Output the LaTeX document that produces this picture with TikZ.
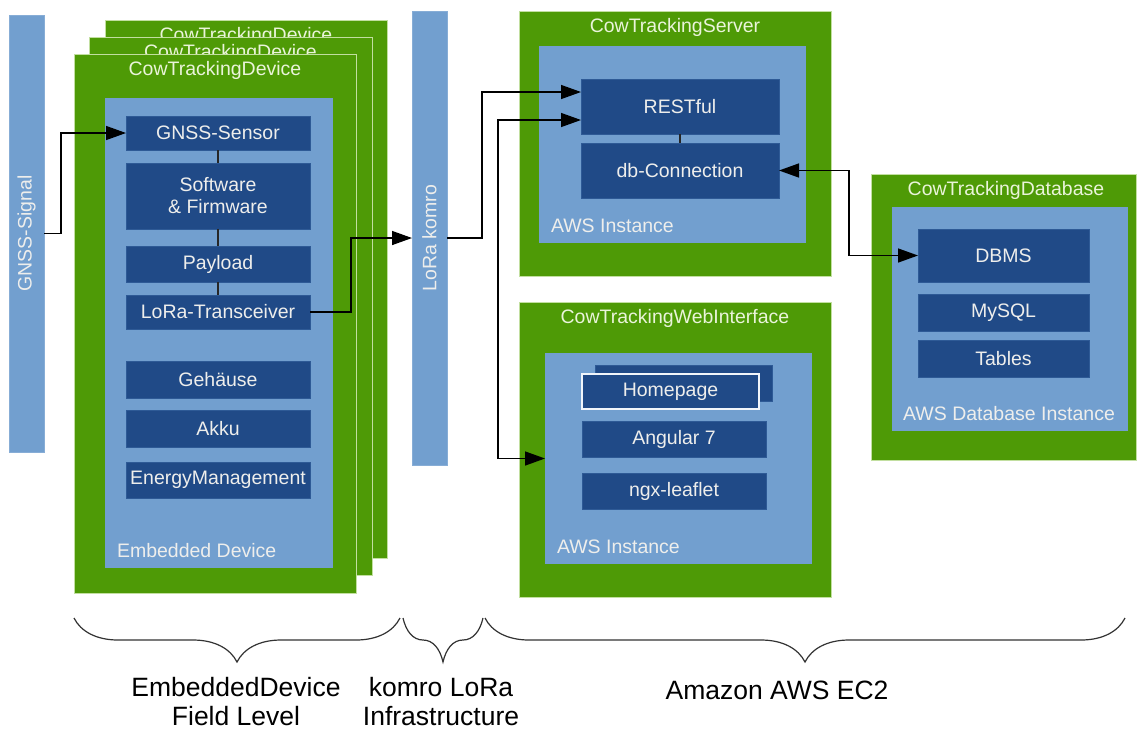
\documentclass[tikz,border=0pt]{standalone}
\usepackage{fontspec}
\setmainfont{Liberation Sans}
\usetikzlibrary{arrows.meta,decorations.pathreplacing}
\definecolor{grn}{HTML}{4E9A06}
\definecolor{grnborder}{HTML}{C2DFA0}
\definecolor{lblue}{HTML}{729FCF}
\definecolor{dblue}{HTML}{204A87}
\definecolor{dborder}{HTML}{2E5A96}
\definecolor{boxtext}{HTML}{EEEEEC}
\definecolor{titletext}{HTML}{EAF4DA}
\begin{document}
\begin{tikzpicture}[x=1pt,y=-1pt,
  every node/.style={inner sep=0pt,outer sep=0pt},
  basefont/.style={font=\fontsize{19.5pt}{22pt}\selectfont},
  greenbox/.style={draw=grnborder,line width=1pt,fill=grn,rectangle},
  bluebox/.style={fill=lblue,rectangle},
  bar/.style={fill=lblue,rectangle,draw=lblue!85!white,line width=0.6pt},
  darkbox/.style={fill=dblue,draw=dborder,line width=0.6pt,rectangle,basefont,text=boxtext,align=center},
  titlelabel/.style={basefont,text=titletext},
  innerlabel/.style={basefont,text=boxtext},
  conn/.style={draw=black!85,line width=1.4pt},
  arr/.style={draw=black,line width=1.4pt,-{Triangle[length=20pt,width=14pt]}},
  arrboth/.style={draw=black,line width=1.4pt,{Triangle[length=20pt,width=14pt]}-{Triangle[length=20pt,width=14pt]}},
  bracestyle/.style={draw=black!80,line width=1.2pt,decorate,decoration={brace,mirror,amplitude=44pt}},
  biglabel/.style={font=\fontsize{26.5pt}{29pt}\selectfont,align=center}
]
\useasboundingbox[fill=white] (0,0) rectangle (1137,729);

% GNSS bar
\node[bar,minimum width=35pt,minimum height=437pt] (gnssbar) at (26.5,233.5) {};
\node[innerlabel,rotate=90] (gnsstxt) at (gnssbar.center) {GNSS-Signal};

% LoRa bar
\node[bar,minimum width=35pt,minimum height=454pt] (lorabar) at (429.5,238) {};
\node[innerlabel,rotate=90] (loratxt) at (lorabar.center) {LoRa komro};

% device stack
\node[greenbox,minimum width=282pt,minimum height=538pt] (dev3) at (246,289) {};
\node[titlelabel] (dev3t) at (246,36) {CowTrackingDevice};
\node[greenbox,minimum width=283pt,minimum height=538pt] (dev2) at (230.5,306) {};
\node[titlelabel] (dev2t) at (230.5,53) {CowTrackingDevice};
\node[greenbox,minimum width=282pt,minimum height=539pt] (dev1) at (215,323.5) {};
\node[titlelabel] (dev1t) at (215,70) {CowTrackingDevice};
\node[bluebox,minimum width=228pt,minimum height=470pt] (devin) at (219,333) {};
\node[innerlabel,anchor=west] (devinl) at (117,551) {Embedded Device};

\node[darkbox,minimum width=184pt,minimum height=34pt] (gnss) at (218,133) {GNSS-Sensor};
\node[darkbox,minimum width=184pt,minimum height=66pt] (soft) at (218,196) {Software\\\& Firmware};
\node[darkbox,minimum width=184pt,minimum height=36pt] (payload) at (218,264) {Payload};
\node[darkbox,minimum width=184pt,minimum height=34pt] (lorat) at (218,312) {LoRa-Transceiver};
\node[darkbox,minimum width=184pt,minimum height=37pt] (gehaeuse) at (218,379.5) {Gehäuse};
\node[darkbox,minimum width=184pt,minimum height=37pt] (akku) at (218,428.5) {Akku};
\node[darkbox,minimum width=184pt,minimum height=36pt] (energy) at (218,480) {EnergyManagement};

\draw[conn] (gnss.south) -- (soft.north);
\draw[conn] (soft.south) -- (payload.north);
\draw[conn] (payload.south) -- (lorat.north);

% server
\node[greenbox,minimum width=312pt,minimum height=265pt] (server) at (675,143.5) {};
\node[titlelabel] (servert) at (675,27) {CowTrackingServer};
\node[bluebox,minimum width=267pt,minimum height=197pt] (serverin) at (672.5,144.5) {};
\node[innerlabel,anchor=west] (serverl) at (551,226) {AWS Instance};
\node[darkbox,minimum width=198pt,minimum height=55pt] (rest) at (680,106.5) {RESTful};
\node[darkbox,minimum width=198pt,minimum height=55pt] (dbconn) at (680,170.5) {db-Connection};
\draw[conn] (rest.south) -- (dbconn.north);

% web interface
\node[greenbox,minimum width=312pt,minimum height=295pt] (web) at (675,449.5) {};
\node[titlelabel] (webt) at (675,318) {CowTrackingWebInterface};
\node[bluebox,minimum width=267pt,minimum height=211pt] (webin) at (678.5,458.5) {};
\node[innerlabel,anchor=west] (webl) at (557,547) {AWS Instance};
\node[darkbox,minimum width=177pt,minimum height=36pt] (homeback) at (683.5,383) {};
\node[darkbox,draw=white!90!lblue,line width=1.2pt,minimum width=177pt,minimum height=35pt] (home) at (670.5,391.5) {Homepage};
\node[darkbox,minimum width=184pt,minimum height=36pt] (angular) at (674,439) {Angular 7};
\node[darkbox,minimum width=184pt,minimum height=36pt] (ngx) at (674,491) {ngx-leaflet};

% database
\node[greenbox,minimum width=265pt,minimum height=286pt] (db) at (1003.5,317) {};
\node[titlelabel] (dbt) at (1006,190) {CowTrackingDatabase};
\node[bluebox,minimum width=236pt,minimum height=224pt] (dbin) at (1010,319) {};
\node[innerlabel] (dbl) at (1009,414) {AWS Database Instance};
\node[darkbox,minimum width=171pt,minimum height=53pt] (dbms) at (1003.5,255.5) {DBMS};
\node[darkbox,minimum width=171pt,minimum height=37pt] (mysql) at (1003.5,312.5) {MySQL};
\node[darkbox,minimum width=171pt,minimum height=37pt] (tables) at (1003.5,358.5) {Tables};

% connectors
\draw[arr] (gnssbar.east) -- ++(17,0) |- (gnss.west);
\draw[arr] (lorat.east) -- ++(41,0) |- (lorabar.west);
\draw[arr] (lorabar.east) -- ++(35,0) |- ([yshift=14.5pt]rest.west);
\coordinate (webcorner) at (498,120);
\draw[arrboth] ([yshift=-13.5pt]rest.west) -- (webcorner) |- (webin.west);
\draw[arrboth] (dbconn.east) -- ++(70,0) |- (dbms.west);

% braces
\coordinate (b1a) at (74,618);
\coordinate (b1b) at (400,618);
\coordinate (b2a) at (403,618);
\coordinate (b2b) at (483,618);
\coordinate (b3a) at (485,618);
\coordinate (b3b) at (1125,618);
\draw[bracestyle] (b1a) -- (b1b);
\draw[bracestyle] (b2a) -- (b2b);
\draw[bracestyle] (b3a) -- (b3b);

\node[biglabel] (lab1) at (236,701.5) {EmbeddedDevice\\Field Level};
\node[biglabel] (lab2) at (441,701.5) {komro LoRa\\Infrastructure};
\node[biglabel] (lab3) at (777,690) {Amazon AWS EC2};
\end{tikzpicture}
\end{document}
